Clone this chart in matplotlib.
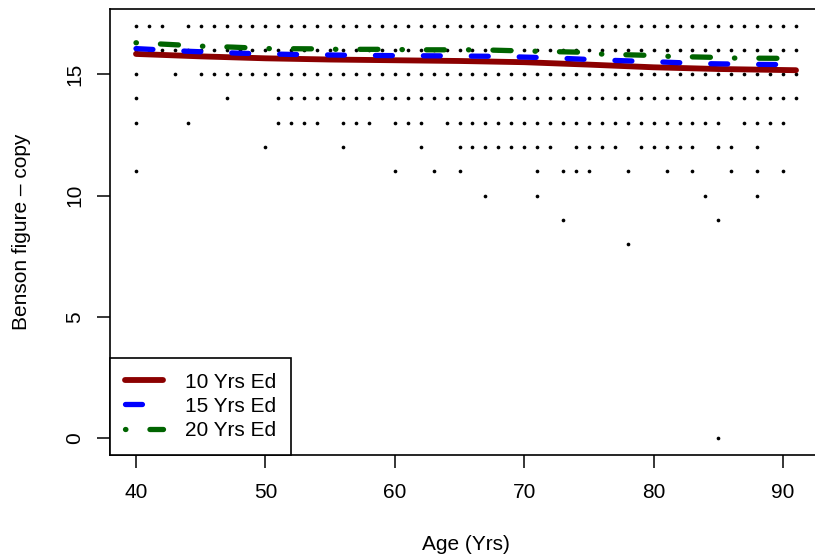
import matplotlib
matplotlib.use("Agg")
import matplotlib.pyplot as plt

plt.rcParams['font.family'] = ['Liberation Sans', 'DejaVu Sans']
plt.rcParams['lines.scale_dashes'] = False

# ---- scatter data: ages observed at each score ----
ages_17 = [40, 41, 42, 44, 45, 46, 47, 48, 49, 50, 51, 52, 53, 54, 55, 56, 57, 58, 59, 60, 61, 62, 63, 64, 65,
           66, 67, 68, 69, 70, 71, 72, 73, 74, 75, 76, 77, 78, 79, 80, 81, 82, 83, 84, 85, 86, 87, 88, 89, 90, 91]
ages_16 = [40, 41, 42, 43, 44, 45, 46, 47, 48, 49, 50, 51, 52, 53, 54, 55, 56, 57, 58, 59, 60, 61, 62, 63, 64, 65,
           66, 67, 68, 69, 70, 71, 72, 73, 74, 75, 76, 77, 78, 79, 80, 81, 82, 83, 84, 85, 86, 87, 88, 89, 90, 91]
ages_15 = [40, 43, 45, 46, 47, 48, 49, 50, 51, 52, 53, 54, 55, 56, 57, 58, 59, 60, 61, 62, 63, 64, 65,
           66, 67, 68, 69, 70, 71, 72, 73, 74, 75, 76, 77, 78, 79, 80, 81, 82, 83, 84, 85, 86, 87, 88, 89, 90, 91]
ages_14 = [40, 47, 51, 52, 53, 54, 55, 56, 57, 58, 59, 60, 61, 62, 63, 64, 65,
           66, 67, 68, 69, 70, 71, 72, 73, 74, 75, 76, 77, 78, 79, 80, 81, 82, 83, 84, 85, 86, 87, 88, 89, 90, 91]
ages_13 = [40, 44, 51, 52, 53, 54, 56, 57, 58, 60, 61, 62, 64, 65, 66, 67, 68, 69, 70, 71, 72, 73, 74, 75,
           76, 77, 78, 79, 80, 81, 82, 83, 84, 85, 87, 88, 89, 90]
ages_12 = [50, 56, 62, 65, 66, 67, 68, 69, 70, 71, 72, 74, 75, 76, 77, 79, 80, 81, 82, 83, 85, 86, 88]
ages_11 = [40, 60, 63, 65, 71, 73, 74, 75, 78, 81, 83, 86, 88, 90]
ages_10 = [67, 71, 84, 88]
ages_9 = [73, 85]
ages_8 = [78]
ages_0 = [85]

score_rows = [(17, ages_17), (16, ages_16), (15, ages_15), (14, ages_14), (13, ages_13),
              (12, ages_12), (11, ages_11), (10, ages_10), (9, ages_9), (8, ages_8), (0, ages_0)]

# ---- fitted curves ----
ed10_age = [40, 45, 50, 55, 60, 65, 70, 75, 80, 85, 91]
ed10_val = [15.83, 15.73, 15.65, 15.60, 15.57, 15.54, 15.49, 15.39, 15.28, 15.21, 15.16]

ed15_age = [40, 44, 48, 52, 56, 60, 64, 68, 72, 76, 80, 84, 88, 91]
ed15_val = [16.05, 15.94, 15.86, 15.81, 15.78, 15.76, 15.75, 15.73, 15.67, 15.58, 15.51, 15.43, 15.40, 15.39]

ed20_age = [40, 42.6, 45, 47.5, 50.2, 53.7, 55.5, 59.2, 61.6, 65, 66.6, 69.4, 71, 74.5, 76.1, 79.8, 81.2, 84.6, 86.2, 89.6, 91]
ed20_val = [16.29, 16.22, 16.15, 16.11, 16.05, 16.04, 16.02, 16.02, 16.0, 16.0, 16.0, 15.96, 15.94, 15.9,
            15.82, 15.77, 15.73, 15.69, 15.66, 15.65, 15.64]

legend_labels = ["10 Yrs Ed", "15 Yrs Ed", "20 Yrs Ed"]
x_ticks = [40, 50, 60, 70, 80, 90]
y_ticks = [0, 5, 10, 15]

W, H = 815, 559
FS = 15
fig = plt.figure(figsize=(W / 100, H / 100), dpi=100)
left, right, top, bottom = 109.6, 822.4, 9.0, 455.0
ax = fig.add_axes([left / W, (H - bottom) / H, (right - left) / W, (bottom - top) / H])

for score, ages in score_rows:
    ax.scatter(ages, [score] * len(ages), s=7, color='black', linewidths=0, zorder=2)

ax.plot(ed10_age, ed10_val, color='#8B0000', lw=4.2, solid_capstyle='round', zorder=3, label=legend_labels[0])
ax.plot(ed15_age, ed15_val, color='#0000FF', lw=3.8, linestyle=(0, (12.2, 22.3)),
        dash_capstyle='round', zorder=3, label=legend_labels[1])
ax.plot(ed20_age, ed20_val, color='#006400', lw=3.8, linestyle=(0, (0.3, 17.3, 13.0, 17.3)),
        dash_capstyle='round', zorder=3, label=legend_labels[2])

ax.set_xlim(37.96, 93.04)
ax.set_ylim(-0.68, 17.68)
ax.set_xticks(x_ticks)
ax.set_yticks(y_ticks)
ax.tick_params(axis='both', direction='out', length=9.4, width=1.1, labelsize=FS)
ax.tick_params(axis='x', pad=11)
ax.tick_params(axis='y', pad=9)
for lab in ax.get_yticklabels():
    lab.set_rotation(90)
    lab.set_va('center')
for s in ax.spines.values():
    s.set_linewidth(1.2)
ax.spines['right'].set_visible(False)

ax.set_xlabel("Age (Yrs)", fontsize=FS)
ax.xaxis.label.set_va('baseline')
ax.xaxis.set_label_coords(((left + right) / 2) / W, (H - 550.5) / H, transform=fig.transFigure)
ax.set_ylabel("Benson figure \u2013 copy", fontsize=FS)
ax.yaxis.label.set_va('baseline')
ax.yaxis.set_label_coords(27.5 / W, (H - (top + bottom) / 2) / H, transform=fig.transFigure)

leg = ax.legend(loc='lower left', borderaxespad=0, fancybox=False, fontsize=FS,
                handlelength=1.85, handletextpad=1.05, labelspacing=0.25, borderpad=0.72,
                edgecolor='black', framealpha=1)
leg.get_frame().set_linewidth(1.2)

fig.savefig("out.png", dpi=100)
